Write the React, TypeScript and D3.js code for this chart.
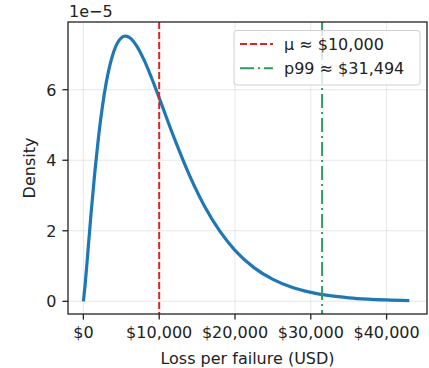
import React from "react";
import * as d3 from "d3";

// Loss values (USD) and density (in units of 1e-5)
const lossX: number[] = [0, 250, 500, 1000, 1500, 2000, 2500, 3000, 4000, 5000, 5500, 6000, 7000, 8000, 9000, 10000, 12000, 14000, 16000, 18000, 20000, 22500, 25000, 27500, 30000, 32500, 35000, 37500, 40000, 43000];
const densityY: number[] = [0, 0.514, 1.156, 2.456, 3.645, 4.667, 5.512, 6.186, 7.078, 7.471, 7.519, 7.49, 7.253, 6.844, 6.332, 5.768, 4.619, 3.571, 2.69, 1.988, 1.446, 0.955, 0.62, 0.398, 0.253, 0.159, 0.0995, 0.0618, 0.0382, 0.0213];

const meanValue = 10000;
const p99Value = 31494;
const xTicks: number[] = [0, 10000, 20000, 30000, 40000];
const yTicks: number[] = [0, 2, 4, 6];
const legendLabels: string[] = ["μ ≈ $10,000", "p99 ≈ $31,494"];

const W = 429, H = 368;
const L = 68, T = 22, R = 427, B = 314;
const FONT = "DejaVu Sans, sans-serif";
const GREEN = "#2e9b5e";
const RED = "#d62728";

export default function App() {
  const x = d3.scaleLinear().domain([-2030, 45330]).range([L, R]);
  const y = d3.scaleLinear().domain([-0.36, 7.92]).range([B, T]);
  const pts = lossX.map((v, i) => [v, densityY[i]] as [number, number]);
  const line = d3.line<[number, number]>().x(d => x(d[0])).y(d => y(d[1])).curve(d3.curveMonotoneX);
  const fmt = (v: number) => "$" + d3.format(",")(v);

  return (
    <svg width={W} height={H} style={{ position: "absolute", left: 0, top: 0, background: "#fff" }} fontFamily={FONT}>
      <rect x={0} y={0} width={W} height={H} fill="#fff" />
      {/* grid */}
      {xTicks.map(t => (
        <line key={"gx" + t} x1={x(t)} x2={x(t)} y1={T} y2={B} stroke="#b0b0b0" strokeOpacity={0.3} strokeWidth={1} />
      ))}
      {yTicks.map(t => (
        <line key={"gy" + t} x1={L} x2={R} y1={y(t)} y2={y(t)} stroke="#b0b0b0" strokeOpacity={0.3} strokeWidth={1} />
      ))}
      <defs>
        <clipPath id="plotclip"><rect x={L} y={T} width={R - L} height={B - T} /></clipPath>
      </defs>
      <g clipPath="url(#plotclip)">
        <path d={line(pts) || ""} fill="none" stroke="#1f77b4" strokeWidth={3.2} strokeLinejoin="round" strokeLinecap="butt" />
        <line x1={x(meanValue)} x2={x(meanValue)} y1={T} y2={B} stroke={RED} strokeWidth={2} strokeDasharray="7,3" />
        <line x1={x(p99Value)} x2={x(p99Value)} y1={T} y2={B} stroke={GREEN} strokeWidth={2} strokeDasharray="14,4,2,4" />
      </g>
      {/* spines */}
      <rect x={L} y={T} width={R - L} height={B - T} fill="none" stroke="#222" strokeWidth={1.3} />
      {/* x ticks */}
      {xTicks.map(t => (
        <g key={"xt" + t}>
          <line x1={x(t)} x2={x(t)} y1={B} y2={B + 5.6} stroke="#222" strokeWidth={1.3} />
          <text x={x(t)} y={338} textAnchor="middle" fontSize={16} fill="#222">{fmt(t)}</text>
        </g>
      ))}
      {/* y ticks */}
      {yTicks.map(t => (
        <g key={"yt" + t}>
          <line x1={L - 5.6} x2={L} y1={y(t)} y2={y(t)} stroke="#222" strokeWidth={1.3} />
          <text x={56.5} y={y(t) + 5.8} textAnchor="end" fontSize={16} fill="#222">{t}</text>
        </g>
      ))}
      <text x={69} y={17} fontSize={16} fill="#222">1e−5</text>
      <text x={(L + R) / 2} y={364} textAnchor="middle" fontSize={16} fill="#222">Loss per failure (USD)</text>
      <text transform={`translate(35,${(T + B) / 2}) rotate(-90)`} textAnchor="middle" fontSize={16} fill="#222">Density</text>
      {/* legend */}
      <rect x={234} y={30.5} width={186} height={54.5} rx={3} fill="#fff" fillOpacity={0.8} stroke="#d0d0d0" strokeWidth={1} />
      <line x1={240} x2={273} y1={44} y2={44} stroke={RED} strokeWidth={2} strokeDasharray="7,3" />
      <line x1={240} x2={273} y1={68.3} y2={68.3} stroke={GREEN} strokeWidth={2} strokeDasharray="14,4,2,4" />
      <text x={284} y={50} fontSize={16} fill="#222">{legendLabels[0]}</text>
      <text x={284} y={74} fontSize={16} fill="#222">{legendLabels[1]}</text>
    </svg>
  );
}
